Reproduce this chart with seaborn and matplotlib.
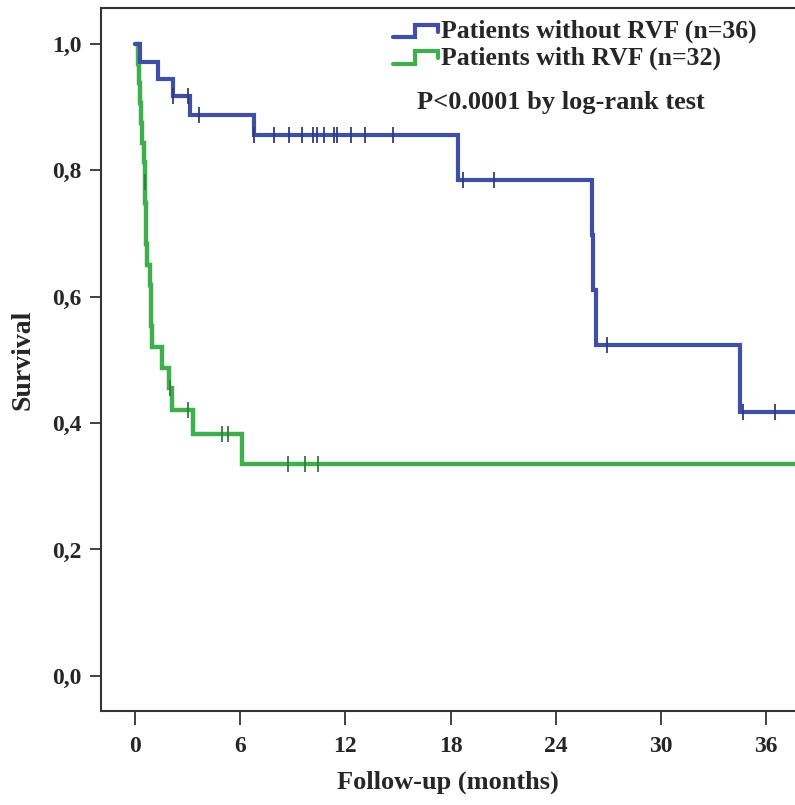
import numpy as np
import pandas as pd
import matplotlib
matplotlib.use("Agg")
import matplotlib.pyplot as plt
from matplotlib.lines import Line2D
from matplotlib.legend_handler import HandlerLine2D
import seaborn as sns

# ---------------- data ----------------
# Patients without RVF (n=36): step times (months) and survival after each step
blue_t = [0.0, 0.29, 1.30, 2.15, 3.12, 6.80, 18.40, 26.05, 26.10, 26.30, 34.50, 40.0]
blue_s = [1.000, 0.972, 0.944, 0.917, 0.887, 0.856, 0.785, 0.698, 0.611, 0.523, 0.418, 0.418]
blue_censor = [2.15, 3.05, 3.65, 6.80, 7.93, 8.80, 9.50, 10.16, 10.36, 10.80, 11.37, 11.50,
               12.30, 13.10, 14.70, 18.70, 20.50, 26.90, 34.70, 36.50]

# Patients with RVF (n=32)
green_t = [0.0, 0.17, 0.23, 0.30, 0.36, 0.42, 0.49, 0.55, 0.59, 0.62, 0.645, 0.67,
           0.86, 0.89, 0.92, 0.95, 1.52, 1.94, 2.10, 3.33, 6.08, 40.0]
green_s = [1.000, 0.969, 0.938, 0.906, 0.875, 0.844, 0.813, 0.781, 0.749, 0.716, 0.684, 0.651,
           0.619, 0.586, 0.554, 0.521, 0.488, 0.456, 0.421, 0.383, 0.335, 0.335]
green_censor = [0.57, 2.00, 3.04, 4.94, 5.32, 8.73, 9.70, 10.44]

labels = ["Patients without RVF (n=36)", "Patients with RVF (n=32)"]
x_ticks = [0, 6, 12, 18, 24, 30, 36]
y_ticks = [0.0, 0.2, 0.4, 0.6, 0.8, 1.0]
y_ticklabels = ["0,0", "0,2", "0,4", "0,6", "0,8", "1,0"]
p_text = "P<0.0001 by log-rank test"
x_label = "Follow-up (months)"
y_label = "Survival"

BLUE = "#3F4FA6"
GREEN = "#3FAF4E"
BLUE_M = "#2F3B82"
GREEN_M = "#2E7D3C"

# ---------------- style ----------------
sns.set_theme(style="white")
plt.rcParams["font.family"] = ["Liberation Serif", "DejaVu Serif"]
plt.rcParams["font.weight"] = "bold"

fig = plt.figure(figsize=(7.95, 8.05), dpi=100)
ax = fig.add_axes([0.127, 0.117, 0.873, 0.873])

def surv_at(times, surv, t):
    i = np.searchsorted(np.asarray(times), t, side="right") - 1
    return np.asarray(surv)[i]

df_b = pd.DataFrame({"t": blue_t, "s": blue_s})
df_g = pd.DataFrame({"t": green_t, "s": green_s})

sns.lineplot(data=df_g, x="t", y="s", ax=ax, drawstyle="steps-post", estimator=None,
             sort=False, color=GREEN, lw=3.2, solid_joinstyle="miter")
sns.lineplot(data=df_b, x="t", y="s", ax=ax, drawstyle="steps-post", estimator=None,
             sort=False, color=BLUE, lw=3.0, solid_joinstyle="miter")

ax.plot(green_censor, [surv_at(green_t, green_s, t) for t in green_censor], ls="none",
        marker="|", ms=12, mew=1.3, color=GREEN_M)
ax.plot(blue_censor, [surv_at(blue_t, blue_s, t) for t in blue_censor], ls="none",
        marker="|", ms=12, mew=1.3, color=BLUE_M)

ax.set_xlim(-1.94, 37.65)
ax.set_ylim(-0.0554, 1.057)
ax.set_xticks(x_ticks)
ax.set_xticklabels([str(v) for v in x_ticks], fontsize=17, fontweight="bold")
ax.set_yticks(y_ticks)
ax.set_yticklabels(y_ticklabels, fontsize=17, fontweight="bold")
ax.tick_params(axis="both", direction="out", length=8, width=1.3, color="#333333",
               left=True, bottom=True, pad=6)
ax.tick_params(axis="x", length=10, pad=8)

for side in ["left", "top", "bottom"]:
    ax.spines[side].set_visible(True)
    ax.spines[side].set_color("#333333")
    ax.spines[side].set_linewidth(1.5)
ax.spines["right"].set_visible(False)

ax.set_xlabel(x_label, fontsize=19, fontweight="bold", labelpad=10)
ax.set_ylabel(y_label, fontsize=20, fontweight="bold", labelpad=12)

class StepHandler(HandlerLine2D):
    def create_artists(self, legend, orig_handle, xdescent, ydescent, width, height,
                       fontsize, trans):
        x0, y0 = -xdescent, -ydescent
        xs = [x0, x0 + 0.5 * width, x0 + 0.5 * width, x0 + width, x0 + width]
        ys = [y0 + 0.05 * height, y0 + 0.05 * height, y0 + 0.75 * height,
              y0 + 0.75 * height, y0 + 0.35 * height]
        ln = Line2D(xs, ys, color=orig_handle.get_color(), lw=3.0,
                    solid_joinstyle="miter")
        ln.set_transform(trans)
        return [ln]

handles = [Line2D([0], [0], color=BLUE, lw=3), Line2D([0], [0], color=GREEN, lw=3)]
leg = ax.legend(handles, labels, loc="upper left", bbox_to_anchor=(393 / 795, 1 - 20 / 805),
                bbox_transform=fig.transFigure, frameon=False, handlelength=1.75,
                handletextpad=0.12, labelspacing=0.12, borderpad=0, borderaxespad=0,
                prop={"size": 18.5, "weight": "bold"},
                handler_map={Line2D: StepHandler()})

fig.text(561 / 795, 1 - 103 / 805, p_text, ha="center", va="center",
         fontsize=19, fontweight="bold")

fig.savefig("out.png", dpi=100)
